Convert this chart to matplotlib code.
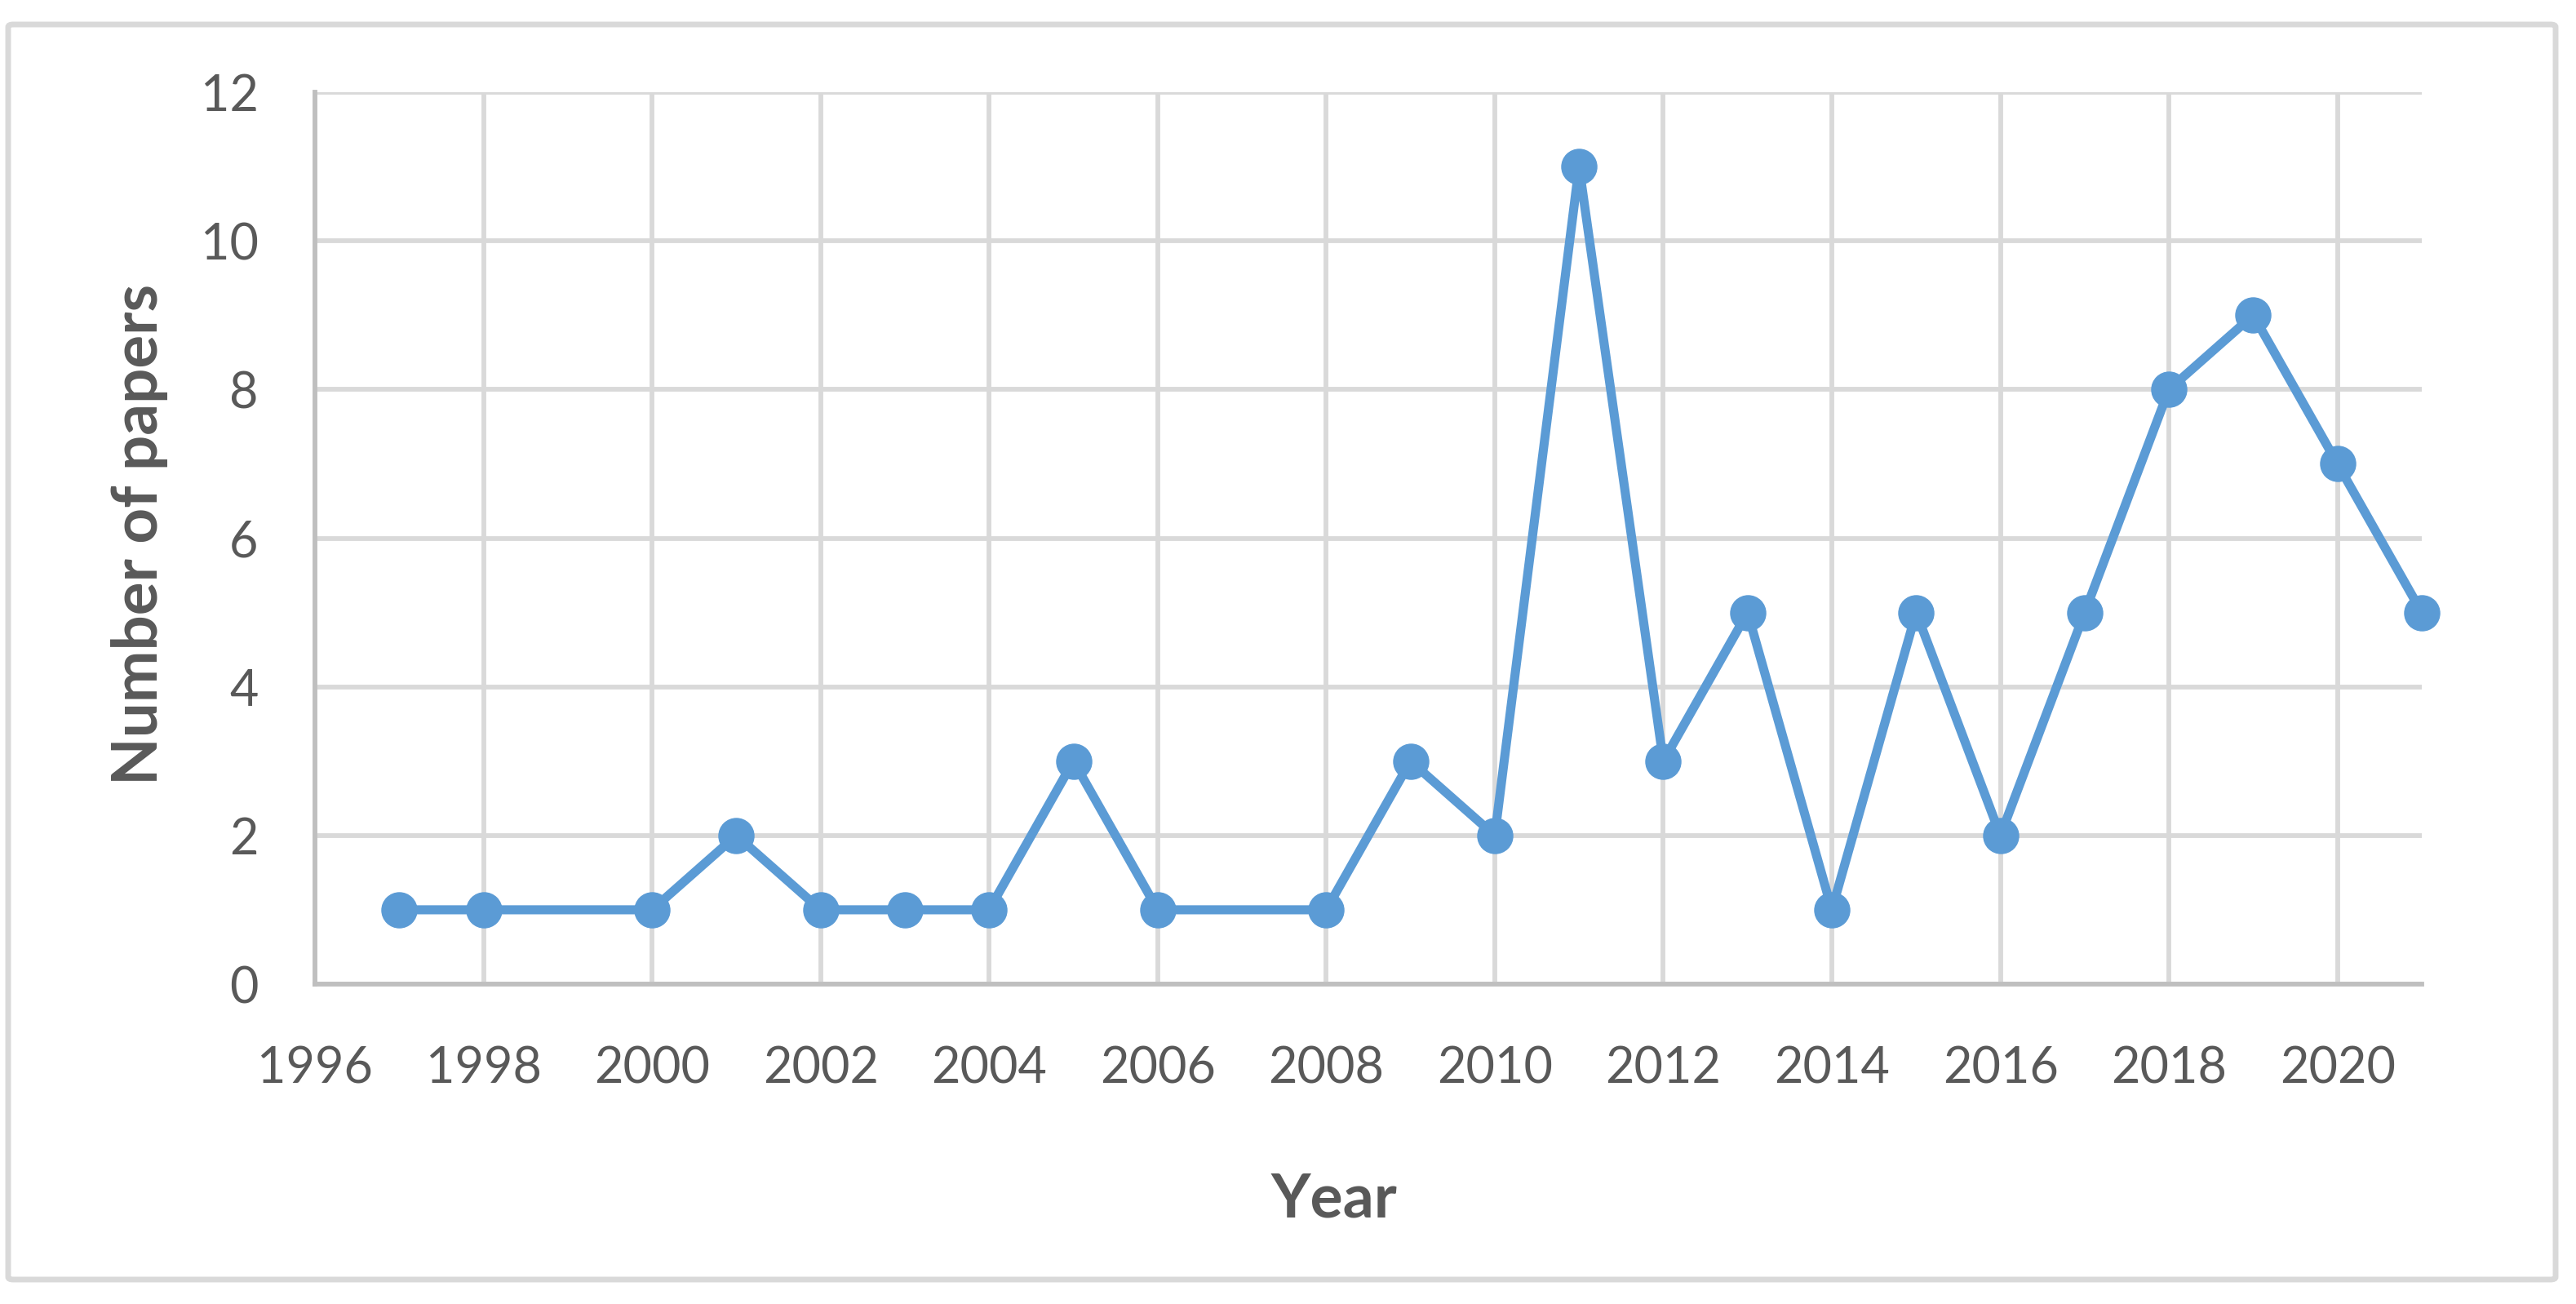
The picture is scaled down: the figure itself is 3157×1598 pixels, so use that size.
import matplotlib
matplotlib.use('Agg')
import matplotlib.pyplot as plt
from matplotlib.patches import FancyBboxPatch

# Data
years = [1997, 1998, 2000, 2001, 2002, 2003, 2004, 2005, 2006, 2008, 2009, 2010,
         2011, 2012, 2013, 2014, 2015, 2016, 2017, 2018, 2019, 2020, 2021]
papers = [1, 1, 1, 2, 1, 1, 1, 3, 1, 1, 3, 2,
          11, 3, 5, 1, 5, 2, 5, 8, 9, 7, 5]
x_ticks = list(range(1996, 2021, 2))
y_ticks = list(range(0, 13, 2))

W, H = 3157, 1598
plt.rcParams['font.family'] = ['Lato', 'DejaVu Sans']
text_col = '#595959'
grid_col = '#D9D9D9'
axis_col = '#BFBFBF'
line_col = '#5B9BD5'

fig = plt.figure(figsize=(W / 100, H / 100), dpi=100)

# Outer chart border (rounded, light grey)
border = FancyBboxPatch((10 / W, 30 / H), (3132 - 10) / W, (1568 - 30) / H,
                        boxstyle='round,pad=0,rounding_size=0.002',
                        transform=fig.transFigure, fill=False,
                        edgecolor=grid_col, linewidth=5)
fig.patches.append(border)

# Plot area in pixels: left 386, right 2968, top 113, bottom 1206
ax = fig.add_axes([386 / W, 1 - 1206 / H, (2968 - 386) / W, (1206 - 113) / H])
ax.set_xlim(1996, 2021)
ax.set_ylim(0, 12)
ax.set_xticks(x_ticks)
ax.set_yticks(y_ticks)

ax.grid(True, color=grid_col, linewidth=4.2, zorder=0)
ax.set_axisbelow(True)
for side in ['top', 'right']:
    ax.spines[side].set_visible(False)
for side in ['left', 'bottom']:
    ax.spines[side].set_color(axis_col)
    ax.spines[side].set_linewidth(4.2)

ax.tick_params(axis='both', length=0, labelsize=44, labelcolor=text_col)
ax.tick_params(axis='y', pad=50)
ax.tick_params(axis='x', pad=54)

ax.plot(years, papers, color=line_col, linewidth=8, marker='o',
        markersize=31, markerfacecolor=line_col, markeredgecolor=line_col,
        zorder=3, clip_on=False)

fig.text(1635 / W, 1 - 1470 / H, 'Year', ha='center', va='center',
         fontsize=54, fontweight='bold', color=text_col)
fig.text(171 / W, 1 - 655 / H, 'Number of papers', ha='center', va='center',
         rotation=90, fontsize=55, fontweight='bold', color=text_col)

fig.savefig('out.png', dpi=100, facecolor='white')
